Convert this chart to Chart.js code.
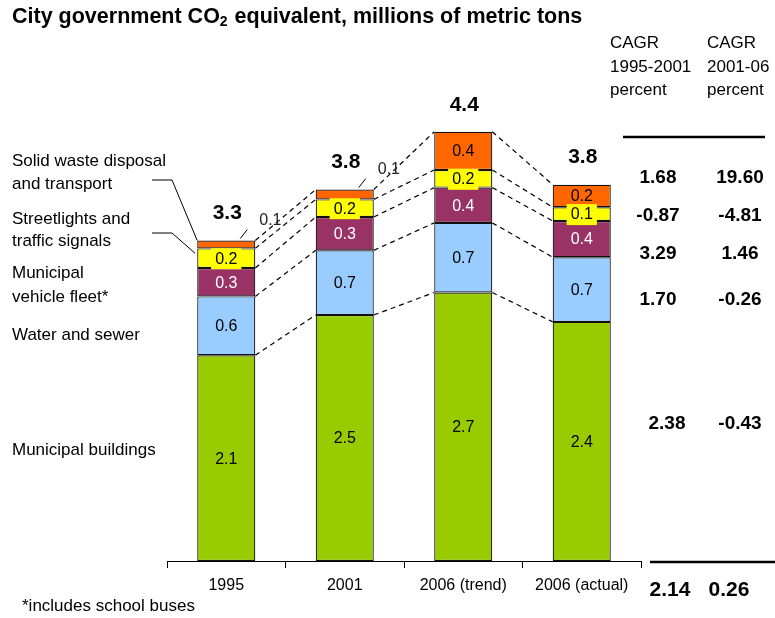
<!DOCTYPE html>
<html>
<head>
<meta charset="utf-8">
<script src="https://cdn.jsdelivr.net/npm/chart.js@4.4.0/dist/chart.umd.min.js"></script>
<style>
  html, body { margin: 0; padding: 0; background: #fff; }
</style>
</head>
<body>
<canvas id="co2Chart" width="775" height="618"></canvas>
<script>
// Categories and stacked series (millions of metric tons CO2e)
const years = ['1995', '2001', '2006 (trend)', '2006 (actual)'];
const buildings = [2.10, 2.51, 2.74, 2.44];
const waterSewer = [0.60, 0.66, 0.71, 0.66];
const vehicleFleet = [0.29, 0.34, 0.36, 0.37];
const streetlights = [0.20, 0.18, 0.18, 0.14];
const solidWaste = [0.08, 0.10, 0.39, 0.23];

// CAGR table, rows top to bottom: waste, streetlights, fleet, water, buildings
const cagr9501 = [1.68, -0.87, 3.29, 1.70, 2.38];
const cagr0106 = [19.60, -4.81, 1.46, -0.26, -0.43];
const cagrTotal = [2.14, 0.26];

const FONT = '"Liberation Sans", Arial, sans-serif';

function txt(ctx, s, x, y, size, opts) {
    opts = opts || {};
    ctx.font = (opts.bold ? 'bold ' : '') + size + 'px ' + FONT;
    ctx.fillStyle = opts.color || '#000';
    ctx.textAlign = opts.align || 'left';
    ctx.textBaseline = 'middle';
    ctx.fillText(s, x, y);
}

const annotations = {
    id: 'annotations',
    afterDatasetsDraw(chart) {
        const ctx = chart.ctx;
        const n = chart.data.datasets.length;
        ctx.save();

        // dashed connectors between segment tops of neighbouring bars
        ctx.strokeStyle = '#000';
        ctx.lineWidth = 1.2;
        ctx.setLineDash([5, 4]);
        for (let d = 0; d < n; d++) {
            const bars = chart.getDatasetMeta(d).data;
            for (let i = 0; i < bars.length - 1; i++) {
                const a = bars[i], b = bars[i + 1];
                ctx.beginPath();
                ctx.moveTo(a.x + a.width / 2, a.y);
                ctx.lineTo(b.x - b.width / 2, b.y);
                ctx.stroke();
            }
        }
        ctx.setLineDash([]);
        ctx.lineWidth = 1;

        // segment value labels
        for (let d = 0; d < n; d++) {
            const ds = chart.data.datasets[d];
            const bars = chart.getDatasetMeta(d).data;
            bars.forEach((el, i) => {
                const label = ds.data[i].toFixed(1);
                const h = el.base - el.y;
                if (h < 12) {
                    // too thin: label outside with a leader line
                    ctx.beginPath();
                    ctx.moveTo(el.x + 14, el.y - 2);
                    ctx.lineTo(el.x + 21, el.y - 11);
                    ctx.stroke();
                    txt(ctx, label, el.x + 33, el.y - 20, 16, { color: '#222' });
                    return;
                }
                const cy = (el.y + el.base) / 2;
                if (ds.labelBox) {
                    ctx.font = '16px ' + FONT;
                    const w = ctx.measureText(label).width + 8;
                    ctx.fillStyle = ds.backgroundColor;
                    ctx.fillRect(el.x - w / 2, cy - 10, w, 21);
                }
                txt(ctx, label, el.x, cy + 1, 16, { align: 'center', color: ds.labelColor });
            });
        }

        // totals above bars
        const yScale = chart.scales.y;
        years.forEach((_, i) => {
            let total = 0;
            chart.data.datasets.forEach(ds => { total += ds.data[i]; });
            const el = chart.getDatasetMeta(0).data[i];
            txt(ctx, total.toFixed(1), el.x + 1, yScale.getPixelForValue(total) - 27, 21, { bold: true, align: 'center' });
        });
        ctx.restore();
    },
    afterDraw(chart) {
        const ctx = chart.ctx;
        ctx.save();

        // title with subscript
        ctx.font = 'bold 21.5px ' + FONT;
        ctx.textBaseline = 'middle';
        ctx.textAlign = 'left';
        ctx.fillStyle = '#000';
        let x = 12;
        const part1 = 'City government CO';
        ctx.fillText(part1, x, 17);
        x += ctx.measureText(part1).width;
        ctx.font = 'bold 14px ' + FONT;
        ctx.fillText('2', x, 22);
        x += ctx.measureText('2').width + 1;
        ctx.font = 'bold 21.5px ' + FONT;
        ctx.fillText(' equivalent, millions of metric tons', x, 17);

        // series labels on the left
        const left = [
            ['Solid waste disposal', 161], ['and transport', 184],
            ['Streetlights and', 219], ['traffic signals', 241],
            ['Municipal', 273], ['vehicle fleet*', 297],
            ['Water and sewer', 335],
            ['Municipal buildings', 450]
        ];
        left.forEach(([s, y]) => txt(ctx, s, 12, y, 17));

        // leader lines to the 1995 bar
        const waste0 = chart.getDatasetMeta(4).data[0];
        const light0 = chart.getDatasetMeta(3).data[0];
        ctx.strokeStyle = '#000';
        ctx.lineWidth = 1;
        ctx.beginPath();
        ctx.moveTo(152, 180);
        ctx.lineTo(172, 180);
        ctx.lineTo(waste0.x - waste0.width / 2, waste0.y);
        ctx.moveTo(152, 233);
        ctx.lineTo(172, 233);
        ctx.lineTo(light0.x - light0.width / 2 - 2, light0.y + 5);
        ctx.stroke();

        // CAGR table
        txt(ctx, 'CAGR', 610, 43, 17);
        txt(ctx, '1995-2001', 610, 67, 17);
        txt(ctx, 'percent', 610, 90, 17);
        txt(ctx, 'CAGR', 707, 43, 17);
        txt(ctx, '2001-06', 707, 67, 17);
        txt(ctx, 'percent', 707, 90, 17);
        ctx.lineWidth = 2.5;
        ctx.beginPath();
        ctx.moveTo(623, 137);
        ctx.lineTo(765, 137);
        ctx.moveTo(650, 562);
        ctx.lineTo(775, 562);
        ctx.stroke();
        const rowY = [178, 216, 254, 300, 424];
        const col1X = [658, 658, 658, 658, 667];
        rowY.forEach((y, r) => {
            txt(ctx, cagr9501[r].toFixed(2), col1X[r], y, 19, { bold: true, align: 'center' });
            txt(ctx, cagr0106[r].toFixed(2), 740, y, 19, { bold: true, align: 'center' });
        });
        txt(ctx, cagrTotal[0].toFixed(2), 670, 590, 21, { bold: true, align: 'center' });
        txt(ctx, cagrTotal[1].toFixed(2), 729, 590, 21, { bold: true, align: 'center' });

        // footnote
        txt(ctx, '*includes school buses', 22, 606, 17);
        ctx.restore();
    }
};

const ctx = document.getElementById('co2Chart').getContext('2d');
new Chart(ctx, {
    type: 'bar',
    data: {
        labels: years,
        datasets: [
            { label: 'Municipal buildings', data: buildings, backgroundColor: '#99CC00', labelColor: '#000' },
            { label: 'Water and sewer', data: waterSewer, backgroundColor: '#99CCFF', labelColor: '#000' },
            { label: 'Municipal vehicle fleet*', data: vehicleFleet, backgroundColor: '#993366', labelColor: '#fff' },
            { label: 'Streetlights and traffic signals', data: streetlights, backgroundColor: '#FFFF00', labelColor: '#000', labelBox: true },
            { label: 'Solid waste disposal and transport', data: solidWaste, backgroundColor: '#FF6600', labelColor: '#000' }
        ].map(ds => Object.assign(ds, {
            borderColor: '#111',
            borderWidth: 1.2,
            borderSkipped: false,
            barPercentage: 1,
            categoryPercentage: 0.49
        }))
    },
    options: {
        responsive: false,
        animation: false,
        layout: { padding: { left: 167, right: 134, top: 71, bottom: 0 } },
        plugins: {
            legend: { display: false },
            tooltip: { enabled: false }
        },
        scales: {
            x: {
                stacked: true,
                grid: { offset: true, drawOnChartArea: false, drawTicks: true, tickLength: 7, color: '#000' },
                border: { color: '#000', width: 1 },
                ticks: { color: '#000', font: { family: FONT, size: 16 }, padding: 8 },
                afterFit(scale) { scale.height = 57; }
            },
            y: { stacked: true, display: false, min: 0, max: 5 }
        }
    },
    plugins: [annotations]
});
</script>
</body>
</html>
